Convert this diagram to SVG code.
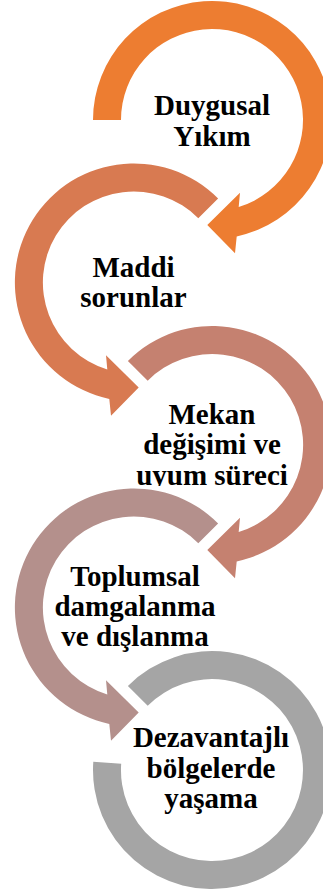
<svg xmlns="http://www.w3.org/2000/svg" width="323" height="891" viewBox="0 0 323 891">
<defs>
<style>
.lbl{font-family:"Liberation Serif","Times New Roman",serif;font-weight:bold;font-size:29px;fill:#000;text-anchor:middle}
.r1{fill:#ED7D31}
.r2{fill:#D87A51}
.r3{fill:#C58170}
.r4{fill:#B4908C}
.r5{fill:#A5A5A5}
</style>
<clipPath id="clip3"><rect x="0" y="0" width="323" height="486"/></clipPath>
</defs>
<g id="node1">
<path class="r1" transform="translate(212,120)" d="M -119,0 A 119 119 0 1 1 24.7,116.4 L 23,133.3 L -4.7,105 L 28,72.7 L 26.7,87 A 91 91 0 1 0 -91,0 Z"/>
<text class="lbl" x="212" y="115">Duygusal</text>
<text class="lbl" x="212" y="145.5">Yıkım</text>
</g>
<g id="node2">
<path class="r2" transform="translate(134,282.5) scale(-1,1)" d="M -84.1,-84.1 A 119 119 0 1 1 24.7,116.4 L 23,133.3 L -4.7,105 L 28,72.7 L 26.7,87 A 91 91 0 1 0 -64.3,-64.3 Z"/>
<text class="lbl" x="133.5" y="277">Maddi</text>
<text class="lbl" x="133.5" y="307">sorunlar</text>
</g>
<g id="node3">
<path class="r3" transform="translate(212,445)" d="M -84.1,-84.1 A 119 119 0 1 1 24.7,116.4 L 23,133.3 L -4.7,105 L 28,72.7 L 26.7,87 A 91 91 0 1 0 -64.3,-64.3 Z"/>
<g clip-path="url(#clip3)">
<text class="lbl" x="212" y="423.5">Mekan</text>
<text class="lbl" x="212" y="453.5">değişimi ve</text>
<text class="lbl" x="212" y="484.5">uyum süreci</text>
</g>
</g>
<g id="node4">
<path class="r4" transform="translate(134,607.5) scale(-1,1)" d="M -84.1,-84.1 A 119 119 0 1 1 24.7,116.4 L 23,133.3 L -4.7,105 L 28,72.7 L 26.7,87 A 91 91 0 1 0 -64.3,-64.3 Z"/>
<text class="lbl" x="135" y="585.5">Toplumsal</text>
<text class="lbl" x="135" y="615.5">damgalanma</text>
<text class="lbl" x="135" y="645.5">ve dışlanma</text>
</g>
<g id="node5">
<path class="r5" transform="translate(212,770)" d="M -84.1,-84.1 A 119 119 0 1 1 -118.7,-8.3 L -90.8,-6.3 A 91 91 0 1 0 -64.3,-64.3 Z"/>
<text class="lbl" x="211" y="747">Dezavantajlı</text>
<text class="lbl" x="211" y="777.5">bölgelerde</text>
<text class="lbl" x="211" y="808">yaşama</text>
</g>
</svg>
